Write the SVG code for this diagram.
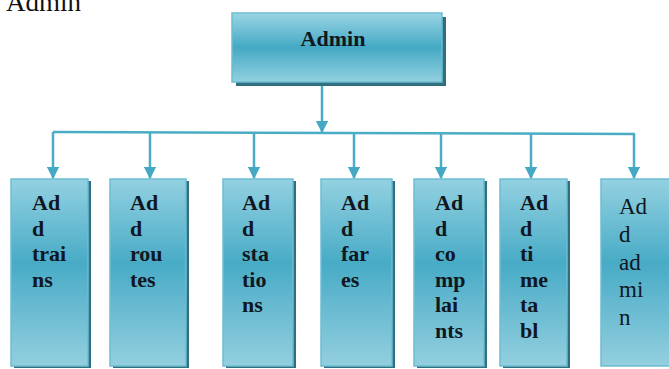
<svg xmlns="http://www.w3.org/2000/svg" width="669" height="369" viewBox="0 0 669 369">
  <defs>
    <linearGradient id="boxFill" x1="0" y1="0" x2="0" y2="1">
      <stop offset="0" stop-color="#93d1e1"/>
      <stop offset="0.45" stop-color="#48abc6"/>
      <stop offset="1" stop-color="#93cfdf"/>
    </linearGradient>
    <linearGradient id="topFill" x1="0" y1="0" x2="0" y2="1">
      <stop offset="0" stop-color="#9ad5e4"/>
      <stop offset="0.5" stop-color="#44a9c4"/>
      <stop offset="1" stop-color="#92d0e0"/>
    </linearGradient>
    <marker id="arrow" viewBox="0 0 10 10" refX="9" refY="5" markerWidth="5" markerHeight="5" orient="auto">
      <path d="M0,0 L10,5 L0,10 z" fill="#45a9c3"/>
    </marker>
  </defs>
  <style>
    .box { fill: url(#boxFill); stroke: #6dbdd1; stroke-width: 1.5; }
    .shade { fill: #2f6f7f; }
    .wire { fill: none; stroke: #4aacc5; stroke-width: 2.5; }
    .lbl { font-family: "Liberation Serif", "Times New Roman", serif; font-weight: bold; font-size: 22px; fill: #101722; }
    .lbl-r { font-family: "Liberation Serif", "Times New Roman", serif; font-size: 23px; fill: #101722; }
    .caption { font-family: "Liberation Serif", "Times New Roman", serif; font-size: 27px; fill: #111; }
  </style>

  <!-- heading above the chart, running off the top edge -->
  <text class="caption" x="6" y="11">Admin</text>

  <!-- root node -->
  <g id="admin">
    <rect class="shade" x="236" y="17" width="210" height="69"/>
    <rect x="232" y="13" width="210" height="69" fill="url(#topFill)" stroke="#6dbdd1" stroke-width="1.5"/>
    <text class="lbl" x="333" y="46" text-anchor="middle">Admin</text>
  </g>

  <!-- connectors -->
  <g id="connectors">
    <path class="wire" d="M322,86 V132" marker-end="url(#arrow)"/>
    <path class="wire" d="M53,132 L635,134"/>
    <path class="wire" d="M53,132 V178" marker-end="url(#arrow)"/>
    <path class="wire" d="M150,132 V178" marker-end="url(#arrow)"/>
    <path class="wire" d="M254,133 V178" marker-end="url(#arrow)"/>
    <path class="wire" d="M354,133 V178" marker-end="url(#arrow)"/>
    <path class="wire" d="M441,133 V178" marker-end="url(#arrow)"/>
    <path class="wire" d="M531,133 V178" marker-end="url(#arrow)"/>
    <path class="wire" d="M634,134 V178" marker-end="url(#arrow)"/>
  </g>

  <g id="add-trains">
    <rect class="shade" x="14" y="181" width="77" height="187"/>
    <rect class="box" x="11" y="179" width="77" height="187"/>
    <text class="lbl"><tspan x="32" y="210">Ad</tspan><tspan x="32" y="235.5">d</tspan><tspan x="32" y="261">trai</tspan><tspan x="32" y="286.5">ns</tspan></text>
  </g>

  <g id="add-routes">
    <rect class="shade" x="113" y="181" width="76" height="187"/>
    <rect class="box" x="110" y="179" width="76" height="187"/>
    <text class="lbl"><tspan x="130" y="210">Ad</tspan><tspan x="130" y="235.5">d</tspan><tspan x="130" y="261">rou</tspan><tspan x="130" y="286.5">tes</tspan></text>
  </g>

  <g id="add-stations">
    <rect class="shade" x="226" y="181" width="70" height="187"/>
    <rect class="box" x="223" y="179" width="70" height="187"/>
    <text class="lbl"><tspan x="242" y="210">Ad</tspan><tspan x="242" y="235.5">d</tspan><tspan x="242" y="261">sta</tspan><tspan x="242" y="286.5">tio</tspan><tspan x="242" y="312">ns</tspan></text>
  </g>

  <g id="add-fares">
    <rect class="shade" x="324" y="181" width="71" height="187"/>
    <rect class="box" x="321" y="179" width="71" height="187"/>
    <text class="lbl"><tspan x="341" y="210">Ad</tspan><tspan x="341" y="235.5">d</tspan><tspan x="341" y="261">far</tspan><tspan x="341" y="286.5">es</tspan></text>
  </g>

  <g id="add-complaints">
    <rect class="shade" x="417" y="181" width="70" height="187"/>
    <rect class="box" x="414" y="179" width="70" height="187"/>
    <text class="lbl"><tspan x="435" y="210">Ad</tspan><tspan x="435" y="235.5">d</tspan><tspan x="435" y="261">co</tspan><tspan x="435" y="286.5">mp</tspan><tspan x="435" y="312">lai</tspan><tspan x="435" y="337.5">nts</tspan></text>
  </g>

  <g id="add-timetable">
    <rect class="shade" x="503" y="181" width="67" height="187"/>
    <rect class="box" x="500" y="179" width="67" height="187"/>
    <text class="lbl"><tspan x="520" y="210">Ad</tspan><tspan x="520" y="235.5">d</tspan><tspan x="520" y="261">ti</tspan><tspan x="520" y="286.5">me</tspan><tspan x="520" y="312">ta</tspan><tspan x="520" y="337.5">bl</tspan></text>
  </g>

  <g id="add-admin">
    <rect class="box" x="601" y="179" width="72" height="187"/>
    <text class="lbl-r"><tspan x="619" y="214">Ad</tspan><tspan x="619" y="242">d</tspan><tspan x="619" y="270">ad</tspan><tspan x="619" y="297">mi</tspan><tspan x="619" y="325">n</tspan></text>
  </g>
</svg>
